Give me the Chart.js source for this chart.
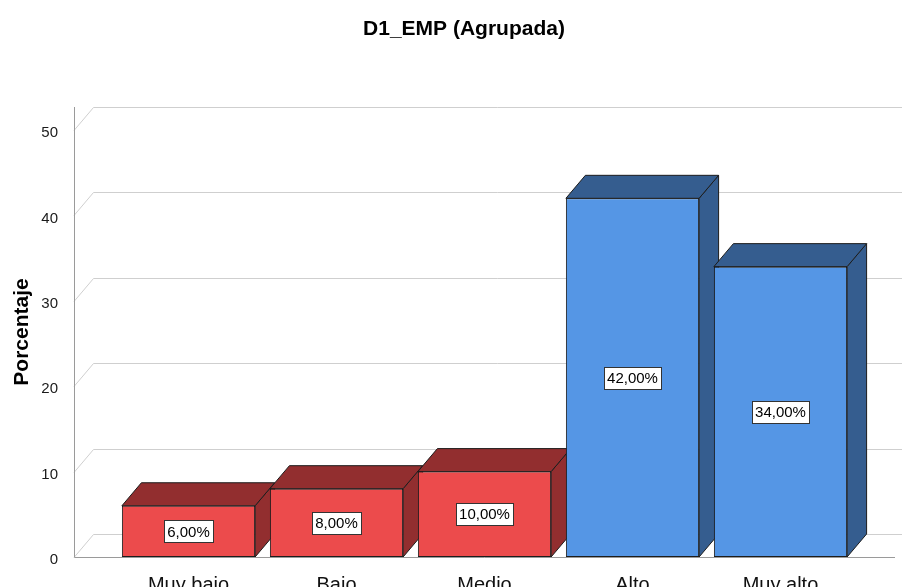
<!DOCTYPE html>
<html>
<head>
<meta charset="utf-8">
<script src="https://cdn.jsdelivr.net/npm/chart.js@4.4.1/dist/chart.umd.min.js"></script>
<style>
  html, body { margin: 0; padding: 0; background: #fff; overflow: hidden; }
  #wrap { position: relative; width: 902px; height: 587px; }
</style>
</head>
<body>
<div id="wrap"><canvas id="chart"></canvas></div>
<script>
const categories = ['Muy bajo', 'Bajo', 'Medio', 'Alto', 'Muy alto'];
const percentages = [6, 8, 10, 42, 34];
const yTicks = [0, 10, 20, 30, 40, 50];

const FONT = "'Liberation Sans', Arial, sans-serif";
// 3D depth of the bars and of the back wall
const DX = 19.5;
const DY = -23;
const AXIS_GAP = 40.5;

const frontColors = ['#ec4b4c', '#ec4b4c', '#ec4b4c', '#5596e5', '#5596e5'];
const sideColors = ['#922e2f', '#922e2f', '#922e2f', '#355d8f', '#355d8f'];
const edgeColor = '#1c1c1c';

const depthPlugin = {
  id: 'depth',
  beforeDatasetsDraw(chart) {
    const { ctx, chartArea } = chart;
    const y = chart.scales.y;
    const axisX = chartArea.left - AXIS_GAP;
    const rightX = chartArea.right + AXIS_GAP;
    ctx.save();
    ctx.lineWidth = 1;

    // back wall grid lines
    ctx.strokeStyle = '#cfcfcf';
    yTicks.forEach(v => {
      const py = Math.round(y.getPixelForValue(v)) + 0.5;
      ctx.beginPath();
      ctx.moveTo(axisX, py);
      ctx.lineTo(axisX + DX, py + DY);
      ctx.lineTo(chart.width, py + DY);
      ctx.stroke();
    });

    // front axis lines
    const y0 = Math.round(y.getPixelForValue(0)) + 0.5;
    const yTop = y.getPixelForValue(yTicks[yTicks.length - 1]) + DY;
    ctx.strokeStyle = '#9a9a9a';
    ctx.beginPath();
    ctx.moveTo(axisX + 0.5, yTop);
    ctx.lineTo(axisX + 0.5, y0);
    ctx.lineTo(rightX, y0);
    ctx.stroke();

    // side and top faces, left to right
    const meta = chart.getDatasetMeta(0);
    meta.data.forEach((bar, i) => {
      const { x, y: top, base, width } = bar.getProps(['x', 'y', 'base', 'width'], true);
      const l = x - width / 2;
      const r = x + width / 2;
      ctx.fillStyle = sideColors[i];
      ctx.strokeStyle = edgeColor;

      ctx.beginPath();
      ctx.moveTo(r, base);
      ctx.lineTo(r, top);
      ctx.lineTo(r + DX, top + DY);
      ctx.lineTo(r + DX, base + DY);
      ctx.closePath();
      ctx.fill();
      ctx.stroke();

      ctx.beginPath();
      ctx.moveTo(l, top);
      ctx.lineTo(l + DX, top + DY);
      ctx.lineTo(r + DX, top + DY);
      ctx.lineTo(r, top);
      ctx.closePath();
      ctx.fill();
      ctx.stroke();
    });
    ctx.restore();
  },
  afterDatasetsDraw(chart) {
    const { ctx } = chart;
    const y = chart.scales.y;
    ctx.save();

    // value boxes
    ctx.font = '15px ' + FONT;
    ctx.textAlign = 'center';
    ctx.textBaseline = 'middle';
    chart.getDatasetMeta(0).data.forEach((bar, i) => {
      const { x, y: top, base } = bar.getProps(['x', 'y', 'base'], true);
      const text = percentages[i].toFixed(2).replace('.', ',') + '%';
      const w = Math.round(ctx.measureText(text).width + 6);
      const h = 22;
      const cy = (top + base) / 2;
      const bx = Math.round(x - w / 2) + 0.5;
      const by = Math.round(cy - h / 2) + 0.5;
      ctx.fillStyle = '#fff';
      ctx.fillRect(bx, by, w, h);
      ctx.strokeStyle = '#333';
      ctx.lineWidth = 1;
      ctx.strokeRect(bx, by, w, h);
      ctx.fillStyle = '#000';
      ctx.fillText(text, x, cy + 1);
    });

    // vertical axis title, centred on the axis including its depth
    const yMid = (y.getPixelForValue(0) + y.getPixelForValue(yTicks[yTicks.length - 1]) + DY) / 2;
    ctx.translate(22, yMid);
    ctx.rotate(-Math.PI / 2);
    ctx.font = 'bold 21px ' + FONT;
    ctx.fillStyle = '#000';
    ctx.fillText('Porcentaje', 0, 0);
    ctx.restore();
  }
};

new Chart(document.getElementById('chart'), {
  type: 'bar',
  data: {
    labels: categories,
    datasets: [{
      data: percentages,
      backgroundColor: frontColors,
      borderColor: edgeColor,
      borderWidth: 1,
      borderSkipped: false,
      barPercentage: 0.9,
      categoryPercentage: 1
    }]
  },
  options: {
    responsive: true,
    maintainAspectRatio: false,
    animation: false,
    layout: { padding: { left: 26, right: 0, top: 0, bottom: 0 } },
    plugins: {
      legend: { display: false },
      tooltip: { enabled: false },
      title: {
        display: true,
        text: 'D1_EMP (Agrupada)',
        color: '#000',
        font: { family: FONT, size: 21, weight: 'bold' },
        padding: { top: 16.4, bottom: 88.4 }
      }
    },
    scales: {
      x: {
        grid: { display: false },
        border: { display: false },
        ticks: {
          color: '#111',
          font: { family: FONT, size: 20 },
          padding: 8,
          maxRotation: 0,
          autoSkip: false
        },
        afterFit(scale) { scale.height = 30; }
      },
      y: {
        min: 0,
        max: 50,
        afterBuildTicks(scale) { scale.ticks = yTicks.map(v => ({ value: v })); },
        grid: { display: false },
        border: { display: false },
        ticks: {
          color: '#1a1a1a',
          font: { family: FONT, size: 15 },
          padding: 48.5,
          labelOffset: 3
        },
        afterFit(scale) {
          scale.width = 88.5;
          // the large label padding must not push the plot area in
          scale.paddingTop = 0;
          scale.paddingBottom = 0;
        }
      },
      // empty right-hand axis that only reserves the space right of the bars
      spacer: {
        type: 'linear',
        position: 'right',
        grid: { display: false },
        border: { display: false },
        ticks: { display: false },
        afterFit(scale) { scale.width = 47.5; }
      }
    }
  },
  plugins: [depthPlugin]
});
</script>
</body>
</html>
